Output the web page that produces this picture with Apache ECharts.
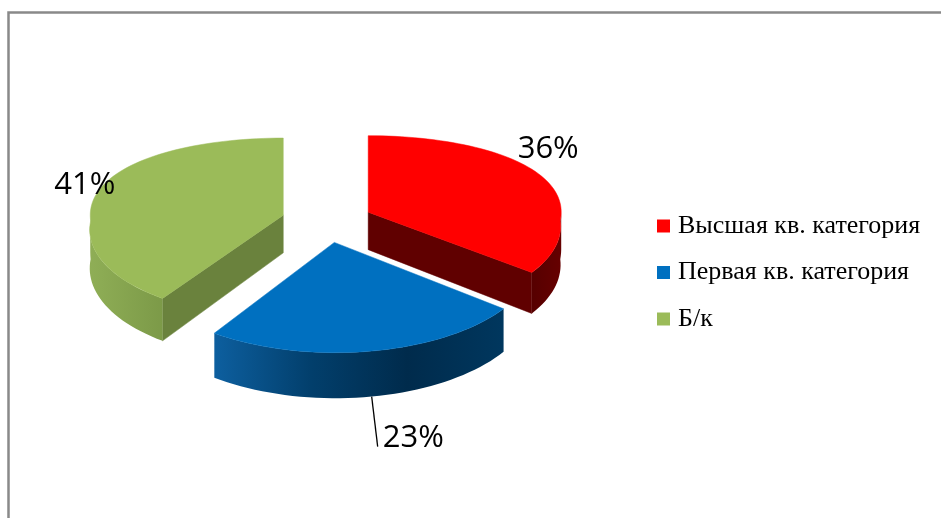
<!DOCTYPE html>
<html>
<head>
<meta charset="utf-8">
<script src="https://cdn.jsdelivr.net/npm/echarts@6/dist/echarts.min.js"></script>
<style>
  html, body { margin: 0; padding: 0; background: #fff; }
  #main { width: 941px; height: 518px; }
</style>
</head>
<body>
<div id="main"></div>
<script>
// данные
var categories = ['Высшая кв. категория', 'Первая кв. категория', 'Б/к'];
var values = [36, 23, 41];

// цвета: верх, боковая дуга, срез
var topColors = ['#ff0000', '#0070c0', '#9bbb59'];
var sideColors = [
  ['#560000', '#660000'],
  ['#0d5f9f', '#023f6c', '#002b4c', '#00375e'],
  ['#8fae56', '#7c9a48']
];
var cutColors = ['#600000', '#003a66', '#6a823d'];

var total = values.reduce(function (a, b) { return a + b; }, 0);

// псевдо-3D проекция
var RX = 193, RY = 89, H = 38, K = 0.135, EXPLODE = 0.236;

function renderSlice(params, api) {
  var idx = params.seriesIndex;
  var v = api.value(0);
  var start = 0;
  for (var i = 0; i < idx; i++) start += values[i] / total * 360;
  var end = start + v / total * 360;
  var mid = (start + end) / 2;
  var CX = api.getWidth() * 0.3475, CY = api.getHeight() * 0.4266;
  var mr = mid * Math.PI / 180;
  var ox = EXPLODE * Math.sin(mr), oz = -EXPLODE * Math.cos(mr);

  function proj(r, th, down) {
    var rad = th * Math.PI / 180;
    var x = ox + r * Math.sin(rad), z = oz - r * Math.cos(rad);
    var p = 1 / (1 - K * z);
    var px = 1 / (1 - K * Math.max(z, 0));
    return [CX + RX * x * px, CY + RY * z * p + (down ? H * p : 0)];
  }
  function arc(a, b, down) {
    var pts = [], n = Math.max(2, Math.ceil(Math.abs(b - a) / 2));
    for (var j = 0; j <= n; j++) pts.push(proj(1, a + (b - a) * j / n, down));
    return pts;
  }
  function poly(points, fill) {
    return { type: 'polygon', shape: { points: points },
      style: { fill: fill, stroke: typeof fill === 'string' ? fill : null, lineWidth: 0.5 } };
  }

  var children = [];
  // срезы
  if (Math.sin(start * Math.PI / 180) < -1e-6) {
    children.push(poly([proj(0, start), proj(1, start), proj(1, start, true), proj(0, start, true)], cutColors[idx]));
  }
  if (Math.sin(end * Math.PI / 180) > 1e-6) {
    children.push(poly([proj(0, end), proj(1, end), proj(1, end, true), proj(0, end, true)], cutColors[idx]));
  }
  // внешняя боковая стенка
  var sa = Math.max(start, 90), sb = Math.min(end, 270);
  if (sb > sa) {
    var stops = sideColors[idx].map(function (c, k, arr) {
      return { offset: k / (arr.length - 1), color: c };
    });
    var pts = arc(sa, sb, false).concat(arc(sa, sb, true).reverse());
    children.push({ type: 'polygon', shape: { points: pts },
      style: { fill: new echarts.graphic.LinearGradient(0, 0, 1, 0, stops) } });
  }
  // верх
  children.push(poly([proj(0, start)].concat(arc(start, end, false)), topColors[idx]));

  // подписи
  var txt = Math.round(v / total * 100) + '%';
  function label(x, y, align) {
    return { type: 'text', x: x, y: y, z2: 10,
      style: { text: txt, fill: '#000', fontSize: 31, fontFamily: 'Open Sans',
        align: align, textAlign: align, verticalAlign: 'middle', textVerticalAlign: 'middle' } };
  }
  if (idx === 0) {
    var p0 = proj(1.18, 50);
    children.push(label(p0[0] - 25, p0[1] - 3, 'left'));
  } else if (idx === 2) {
    var p2 = proj(1.1, 300);
    children.push(label(p2[0] + 16, p2[1] + 15, 'right'));
  } else {
    var s = proj(1, mid, true);
    var e = [s[0] + 6, s[1] + 50];
    children.push({ type: 'line', shape: { x1: s[0], y1: s[1], x2: e[0], y2: e[1] },
      style: { stroke: '#000', lineWidth: 1.3 } });
    children.push(label(e[0] + 5, e[1] - 8, 'left'));
  }
  return { type: 'group', children: children };
}

var chart = echarts.init(document.getElementById('main'), null, { renderer: 'canvas' });

var series = categories.map(function (name, i) {
  return {
    type: 'custom',
    name: name,
    coordinateSystem: 'none',
    z: i === 1 ? 3 : 2,
    itemStyle: { color: topColors[i] },
    renderItem: renderSlice,
    data: [[values[i]]]
  };
});

chart.setOption({
  backgroundColor: '#ffffff',
  animation: false,
  legend: {
    orient: 'vertical',
    left: 652,
    top: 207,
    icon: 'rect',
    itemWidth: 13,
    itemHeight: 13,
    itemGap: 18.5,
    selectedMode: false,
    data: categories,
    textStyle: { fontFamily: 'Liberation Serif', fontSize: 26, color: '#000', lineHeight: 28, padding: [0, 0, 0, 3] }
  },
  graphic: [{
    type: 'rect',
    shape: { x: 8.5, y: 12.5, width: 1000, height: 600 },
    style: { fill: null, stroke: '#898989', lineWidth: 2.5 },
    silent: true
  }],
  series: series
});
</script>
</body>
</html>
